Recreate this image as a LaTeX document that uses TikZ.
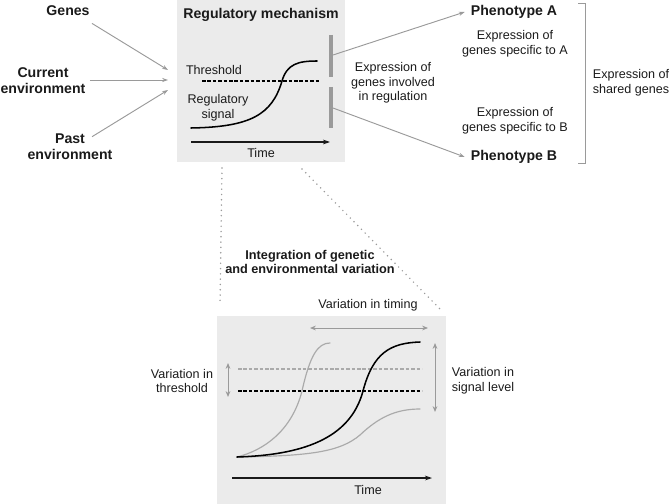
\documentclass[tikz,border=0pt]{standalone}
\usepackage{fontspec}
\setmainfont{Liberation Sans}
\usetikzlibrary{arrows.meta}

\definecolor{panelgray}{HTML}{EBEBEB}
\definecolor{arrowgray}{HTML}{9A9A9A}
\definecolor{curvegray}{HTML}{AAAAAA}
\definecolor{inkgray}{HTML}{1A1A1A}

\begin{document}
\begin{tikzpicture}[x=0.85pt,y=-0.85pt,
	head/.style={font=\bfseries\fontsize{12}{13.5}\selectfont, align=center, inner sep=1pt, text=inkgray},
	lbl/.style={font=\fontsize{10.7}{12.5}\selectfont, align=center, inner sep=1pt, text=inkgray},
	feed/.style={draw=arrowgray, line width=0.8pt, -{Stealth[length=5pt,width=3.5pt]}},
	span/.style={draw=arrowgray, line width=0.8pt, {Stealth[length=5pt,width=4pt]}-{Stealth[length=5pt,width=4pt]}},
	timeaxis/.style={draw=inkgray, line width=0.9pt, -{Stealth[length=6pt,width=4pt]}},
	thresh/.style={line width=1pt, dash pattern=on 3pt off 1.6pt},
	signal/.style={line width=1.3pt, line cap=round},
	zoomline/.style={draw=arrowgray, line width=1.4pt, line cap=round, dash pattern=on 0pt off 4.5pt}]
\useasboundingbox (0,0) rectangle (671,504);

% panels
\fill[panelgray] (177,0) rectangle (345,162);
\fill[panelgray] (217,316) rectangle (446,504);

% inputs
\node [head] (genes) at (68,11) {Genes};
\node [head] (current) at (43,81) {Current\\environment};
\node [head] (past) at (70,147) {Past\\environment};
\coordinate (inG) at (168,70);
\coordinate (inC) at (168,80);
\coordinate (inP) at (168,90);
\draw [feed] ([shift={(1,6)}]genes.south east) -- (inG);
\draw [feed] ([shift={(3,-1)}]current.east) -- (inC);
\draw [feed] ([shift={(22,4)}]past.north) -- (inP);

% regulatory mechanism
\node [head] (mech) at (261,15) {Regulatory mechanism};
\node [lbl] (thr) at (214,70) {Threshold};
\node [lbl] (regsig) at (218,108) {Regulatory\\signal};
\draw [thresh] (202,81) -- (320,81);
\draw [signal] (191,128) .. controls (250,127) and (272,115) .. (282,81)
	.. controls (287,64) and (298,61) .. (317,61);
\draw [timeaxis] (191,142) -- (330,142);
\node [lbl] (time) at (261,153) {Time};
\draw [arrowgray, line width=2.6pt] (331,35) -- (331,77);
\draw [arrowgray, line width=2.6pt] (331,87) -- (331,128);
\coordinate (barA) at (333,55);
\coordinate (barB) at (333,108);
\node [lbl] (involved) at (393,83) {Expression of\\genes involved\\in regulation};

% phenotypes
\node [head] (phenA) at (514,12) {Phenotype A};
\node [head] (phenB) at (514,157) {Phenotype B};
\node [lbl] (specA) at (515,44) {Expression of\\genes specific to A};
\node [lbl] (specB) at (515,121) {Expression of\\genes specific to B};
\draw [feed] (barA) -- ([xshift=-4pt]phenA.west);
\draw [feed] (barB) -- ([xshift=-4pt]phenB.west);
\draw [arrowgray, line width=0.8pt] (578,3) -- (585,3) -- (585,163) -- (578,163);
\node [lbl] (shared) at (631,83) {Expression of\\shared genes};

% zoom
\coordinate (zl1) at (222,168);
\coordinate (zl2) at (220,305);
\coordinate (zr1) at (302,169);
\coordinate (zr2) at (443,312);
\draw [zoomline] (zl1) -- (zl2);
\draw [zoomline] (zr1) -- (zr2);
\node [head, font=\bfseries\fontsize{10.8}{11.5}\selectfont] (integ) at (310,262) {Integration of genetic\\and environmental variation};

% variation
\node [lbl] (vtiming) at (368,305) {Variation in timing};
\node [lbl] (vthr) at (182,381) {Variation in\\threshold};
\node [lbl] (vsig) at (483,381) {Variation in\\signal level};
\draw [span] (310,328) -- (428,328);
\draw [span] (228,363) -- (228,397);
\draw [span] (435,343) -- (435,412);
\draw [thresh, curvegray] (238,369) -- (422,369);
\draw [thresh] (238,391) -- (422,391);
\draw [signal, curvegray, line width=1pt] (237,457) .. controls (265,450) and (292,430) .. (302,391)
	.. controls (310,355) and (318,343) .. (330,343);
\draw [signal, curvegray, line width=1pt] (237,457) .. controls (310,456) and (340,452) .. (360,435)
	.. controls (378,418) and (395,409) .. (420,409);
\draw [signal] (237,457) .. controls (300,455) and (350,440) .. (363,391)
	.. controls (373,353) and (390,343) .. (420,342);
\draw [timeaxis] (232,478) -- (432,478);
\node [lbl] (time2) at (368,490) {Time};
\end{tikzpicture}
\end{document}
